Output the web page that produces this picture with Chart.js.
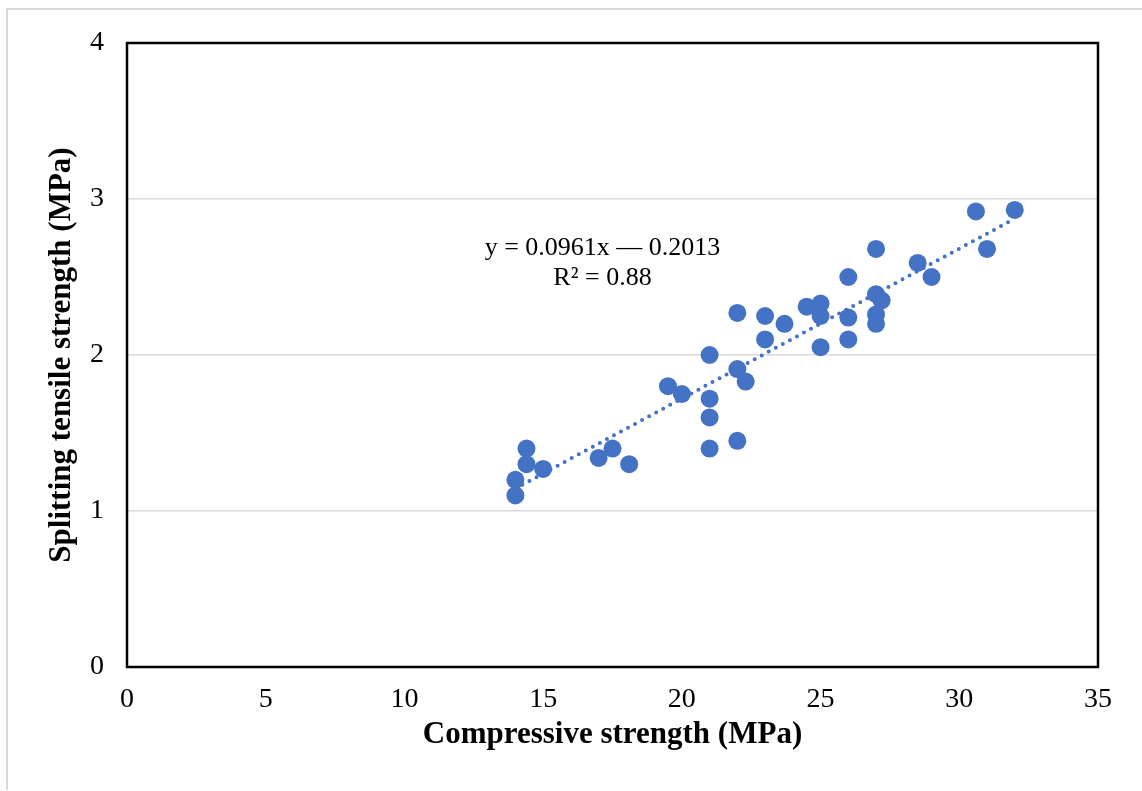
<!DOCTYPE html>
<html lang="en">
<head>
    <meta charset="UTF-8">
    <title>Splitting tensile vs compressive strength</title>
    <script src="https://cdn.jsdelivr.net/npm/chart.js@4.4.0/dist/chart.umd.min.js"></script>
    <style>
        body {
            margin: 0;
            background: #ffffff;
        }
        .frame {
            position: absolute;
            left: 6px;
            top: 8px;
            width: 1136px;
            height: 780px;
            border-top: 2px solid #d9d9d9;
            border-left: 2px solid #d9d9d9;
        }
        #scatterChart {
            position: absolute;
            left: 0;
            top: 0;
        }
    </style>
</head>
<body>
<div class="frame"></div>
<canvas id="scatterChart" width="1142" height="791"></canvas>
<script>
    // compressive strength (MPa)
    const compressive = [
        14.0, 14.0, 14.4, 14.4, 15.0, 17.0, 17.5, 18.1,
        19.5, 20.0, 21.0, 21.0, 21.0, 21.0, 22.0, 22.0, 22.0, 22.3,
        23.0, 23.0, 23.7, 24.5, 25.0, 25.0, 25.0,
        26.0, 26.0, 26.0, 27.0, 27.0, 27.0, 27.0, 27.2,
        28.5, 29.0, 30.6, 31.0, 32.0
    ];
    // splitting tensile strength (MPa)
    const tensile = [
        1.10, 1.20, 1.40, 1.30, 1.27, 1.34, 1.40, 1.30,
        1.80, 1.75, 2.00, 1.72, 1.60, 1.40, 2.27, 1.91, 1.45, 1.83,
        2.25, 2.10, 2.20, 2.31, 2.33, 2.25, 2.05,
        2.50, 2.24, 2.10, 2.68, 2.39, 2.26, 2.20, 2.35,
        2.59, 2.50, 2.92, 2.68, 2.93
    ];
    // trendline end points
    const trendX = [14.0, 32.0];
    const trendY = [1.144, 2.874];

    const xTicks = [0, 5, 10, 15, 20, 25, 30, 35];
    const yTicks = [0, 1, 2, 3, 4];

    const eqLines = ['y = 0.0961x \u2014 0.2013', 'R\u00b2 = 0.88'];

    const blue = '#4472C4';
    const serif = '"Liberation Serif", "Times New Roman", serif';

    const points = compressive.map((x, i) => ({x: x, y: tensile[i]}));
    const trend = trendX.map((x, i) => ({x: x, y: trendY[i]}));

    // box round the plot area + equation text
    const extras = {
        id: 'extras',
        afterDraw(chart) {
            const c = chart.ctx;
            const a = chart.chartArea;
            c.save();
            c.strokeStyle = '#000000';
            c.lineWidth = 2.5;
            c.strokeRect(a.left, a.top, a.right - a.left, a.bottom - a.top);

            const sx = chart.scales.x, sy = chart.scales.y;
            c.fillStyle = '#000000';
            c.font = '26px ' + serif;
            c.textAlign = 'center';
            c.textBaseline = 'alphabetic';
            c.fillText(eqLines[0], sx.getPixelForValue(17.14), sy.getPixelForValue(2.64));
            c.fillText(eqLines[1], sx.getPixelForValue(17.14), sy.getPixelForValue(2.447));
            c.restore();
        }
    };

    new Chart(document.getElementById('scatterChart'), {
        type: 'scatter',
        data: {
            datasets: [{
                data: points,
                backgroundColor: blue,
                borderWidth: 0,
                pointRadius: 9,
                order: 2
            }, {
                data: trend,
                showLine: true,
                borderColor: blue,
                borderWidth: 4,
                borderDash: [0, 8],
                borderCapStyle: 'round',
                pointRadius: 0,
                order: 1
            }]
        },
        options: {
            responsive: false,
            animation: false,
            devicePixelRatio: 1,
            layout: {padding: {top: 43, right: 44, left: 0, bottom: 0}},
            plugins: {
                legend: {display: false},
                tooltip: {enabled: false}
            },
            scales: {
                x: {
                    type: 'linear',
                    min: 0,
                    max: 35,
                    afterBuildTicks: s => { s.ticks = xTicks.map(v => ({value: v})); },
                    afterFit: s => { s.height = 124; },
                    grid: {display: false, drawTicks: false},
                    border: {display: false},
                    ticks: {
                        color: '#000000',
                        font: {family: serif, size: 28},
                        padding: 16,
                        maxRotation: 0
                    },
                    title: {
                        display: true,
                        text: 'Compressive strength (MPa)',
                        color: '#000000',
                        font: {family: serif, size: 31, weight: 'bold'},
                        padding: {top: 0, bottom: 37}
                    }
                },
                y: {
                    type: 'linear',
                    min: 0,
                    max: 4,
                    afterBuildTicks: s => { s.ticks = yTicks.map(v => ({value: v})); },
                    afterFit: s => { s.width = 127; },
                    grid: {
                        color: c => (c.tick && c.tick.value > 0 && c.tick.value < 4) ? '#d9d9d9' : 'rgba(0,0,0,0)',
                        lineWidth: 1.5,
                        drawTicks: false
                    },
                    border: {display: false},
                    ticks: {
                        color: '#000000',
                        font: {family: serif, size: 28},
                        padding: 23
                    },
                    title: {
                        display: true,
                        text: 'Splitting tensile strength (MPa)',
                        color: '#000000',
                        font: {family: serif, size: 31, weight: 'bold'},
                        padding: {top: 43, bottom: 0}
                    }
                }
            }
        },
        plugins: [extras]
    });
</script>
</body>
</html>
